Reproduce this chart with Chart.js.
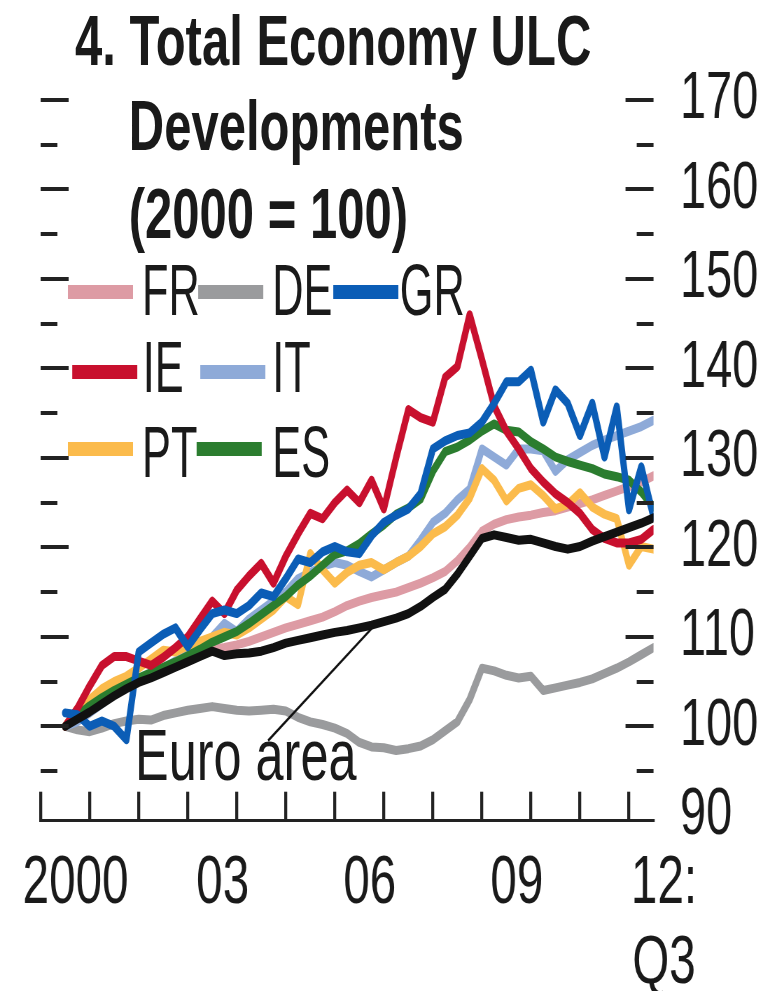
<!DOCTYPE html>
<html>
<head>
<meta charset="utf-8">
<title>Total Economy ULC Developments</title>
<script src="https://cdn.jsdelivr.net/npm/chart.js@4.4.0/dist/chart.umd.min.js"></script>
<style>
  html, body { margin:0; padding:0; background:#fff; width:780px; height:991px; overflow:hidden; }
  #wrap { position:absolute; left:0; top:0; width:1114px; height:991px; transform:scaleX(0.7); transform-origin:0 0; }
  #c { position:absolute; left:0; top:0; }
  .t { position:absolute; white-space:nowrap; font-family:'Liberation Sans', Arial, sans-serif; color:#1a1a1a; line-height:1; }
  .title { font-weight:bold; font-size:70px; }
  .leg { font-size:72px; transform:scaleX(0.86); transform-origin:0 0; }
  .note { font-size:72px; }
  .sw { position:absolute; height:14px; }
</style>
</head>
<body>
<div id="wrap">
  <canvas id="c" width="1114" height="991"></canvas>
  <div class="t title" style="left:107px; top:6px;">4. Total Economy ULC</div>
  <div class="t title" style="left:184px; top:91px;">Developments</div>
  <div class="t title" style="left:184px; top:179px;">(2000 = 100)</div>
  <div class="t note" style="left:193px; top:719px;">Euro area</div>
  <div id="legend"></div>
</div>
<script>
// ---------------- DATA ----------------
const quarters = [
  '2000Q3','2000Q4',
  '2001Q1','2001Q2','2001Q3','2001Q4',
  '2002Q1','2002Q2','2002Q3','2002Q4',
  '2003Q1','2003Q2','2003Q3','2003Q4',
  '2004Q1','2004Q2','2004Q3','2004Q4',
  '2005Q1','2005Q2','2005Q3','2005Q4',
  '2006Q1','2006Q2','2006Q3','2006Q4',
  '2007Q1','2007Q2','2007Q3','2007Q4',
  '2008Q1','2008Q2','2008Q3','2008Q4',
  '2009Q1','2009Q2','2009Q3','2009Q4',
  '2010Q1','2010Q2','2010Q3','2010Q4',
  '2011Q1','2011Q2','2011Q3','2011Q4',
  '2012Q1','2012Q2','2012Q3'
];

const fr = [100,101.0,102.0,102.8,103.6,104.3,105.0,105.6,106.2,106.8,
            107.4,108.0,108.6,108.8,109.1,109.5,110.0,110.5,111.0,111.4,
            111.8,112.2,112.8,113.5,114.0,114.4,114.7,115.0,115.5,116.0,
            116.6,117.3,118.5,120.0,121.8,122.6,123.1,123.4,123.6,123.9,
            124.1,124.5,124.9,125.3,125.8,126.3,126.8,127.3,128.0];

const de = [100,99.6,99.4,99.8,100.3,100.6,100.8,100.7,101.2,101.5,
            101.8,102.0,102.2,102.0,101.8,101.7,101.8,101.9,101.7,101.0,
            100.5,100.2,99.8,99.2,98.2,97.7,97.6,97.3,97.5,97.8,
            98.5,99.5,100.5,103.0,106.5,106.2,105.7,105.4,105.6,104.0,
            104.3,104.6,104.9,105.3,105.9,106.5,107.2,108.0,108.8];

const gr = [101.5,101.3,100.0,100.6,100.0,98.5,108.3,109.3,110.3,111.0,
            108.9,110.8,112.6,113.0,112.6,113.5,114.9,114.5,116.5,118.7,
            118.3,119.5,120.1,119.5,119.3,121.3,122.8,123.6,124.3,126.0,
            131.0,131.9,132.5,132.8,134.0,136.1,138.5,138.5,139.8,134.0,
            137.6,136.1,132.5,136.1,130.1,135.7,124.2,129.0,123.4];

const ie = [100,102.0,104.5,106.8,107.8,107.8,107.3,106.8,107.7,108.8,
            110.0,112.0,114.0,112.6,115.2,116.8,118.2,116.0,119.0,121.5,
            123.8,123.2,125.0,126.4,125.0,127.5,124.3,130.0,135.4,134.5,
            134.0,139.0,140.2,146.0,141.0,135.8,133.0,131.0,128.8,127.3,
            126.0,125.0,123.8,122.0,121.0,120.5,120.5,120.9,122.0];

const it = [100,100.5,101.5,102.5,103.5,104.3,105.0,105.5,106.5,107.3,
            108.0,108.8,110.0,111.5,110.6,112.0,113.0,114.0,115.0,116.5,
            117.2,117.9,118.3,118.0,117.3,116.7,117.5,118.3,119.0,120.8,
            122.8,123.8,125.3,126.5,131.0,130.1,129.2,131.0,131.0,130.8,
            128.5,129.8,130.6,131.4,132.0,132.5,133.0,133.5,134.2];

const pt = [100,102.0,103.0,104.2,105.0,105.6,106.5,107.5,108.5,108.3,
            109.0,109.5,110.0,110.5,110.2,111.0,112.0,113.0,114.5,113.6,
            119.3,117.5,116.0,117.2,118.0,118.3,117.5,118.3,119.0,120.1,
            121.5,122.3,123.6,125.5,128.8,127.5,125.2,126.6,127.0,125.8,
            124.3,124.8,126.1,124.5,123.7,123.2,118.0,120.1,119.8];

const es = [100,101.2,102.3,103.2,104.0,104.7,105.4,106.0,106.6,107.2,
            107.9,108.6,109.4,110.0,110.6,111.5,112.5,113.5,114.5,115.8,
            116.8,118.0,119.2,119.6,120.4,121.5,122.5,123.7,124.4,125.4,
            128.5,130.7,131.2,132.0,133.0,133.8,133.1,132.9,131.8,131.0,
            130.1,129.6,129.2,128.8,128.2,127.9,127.5,126.2,124.5];

const ea = [100,100.8,101.6,102.5,103.4,104.2,104.9,105.4,106.0,106.6,
            107.2,107.8,108.4,107.9,108.1,108.2,108.4,108.8,109.3,109.6,
            109.9,110.2,110.5,110.7,111.0,111.3,111.7,112.1,112.6,113.4,
            114.4,115.3,117.0,119.0,121.0,121.4,121.1,120.8,120.9,120.5,
            120.1,119.8,120.1,120.7,121.2,121.7,122.2,122.7,123.3];

const seriesNames  = ['FR','DE','GR','IE','IT','PT','ES','Euro area'];
const seriesValues = [fr, de, gr, ie, it, pt, es, ea];
const seriesColors = ['#dd9ba4','#9a9b9d','#0b5db6','#c8102e','#8eaad8','#fbbb4c','#2b7d2f','#111111'];
const drawOrder    = [6, 7, 1, 2, 5, 4, 3, 0];

const xTickYears  = [2000,2001,2002,2003,2004,2005,2006,2007,2008,2009,2010,2011,2012];
const xLabelYears = [2000, 2003, 2006, 2009, 2012];
const xLabels     = ['2000', '03', '06', '09', ['12:', 'Q3']];
const yTickValues = [90,95,100,105,110,115,120,125,130,135,140,145,150,155,160,165,170];

// ---------------- CHART ----------------
const quarterToX = q => Number(q.slice(0, 4)) + (Number(q.slice(5)) - 1) / 4;

const datasets = seriesNames.map((name, k) => ({
  label: name,
  data: quarters.map((q, i) => ({ x: quarterToX(q), y: seriesValues[k][i] })),
  borderColor: seriesColors[k],
  backgroundColor: seriesColors[k],
  borderWidth: 9,
  pointRadius: 0,
  tension: 0,
  fill: false,
  order: drawOrder[k]
}));

const FONT = "'Liberation Sans', Arial, sans-serif";
const INK = '#1a1a1a';

const innerTicks = {
  id: 'innerTicks',
  afterDatasetsDraw(chart) {
    const { ctx, chartArea, scales } = chart;
    const y = scales.y, x = scales.x;
    ctx.save();
    ctx.strokeStyle = '#222';
    ctx.lineWidth = 4;
    ctx.lineCap = 'butt';
    y.ticks.forEach(t => {
      const v = t.value;
      if (v < 95) return;
      const py = Math.round(y.getPixelForValue(v));
      const len = (v % 10 === 0) ? 40 : 24;
      ctx.beginPath();
      ctx.moveTo(chartArea.left, py);
      ctx.lineTo(chartArea.left + len, py);
      ctx.moveTo(chartArea.right, py);
      ctx.lineTo(chartArea.right - len, py);
      ctx.stroke();
    });
    // pointer from the "Euro area" note to its line
    ctx.strokeStyle = '#111';
    ctx.lineWidth = 2.6;
    ctx.beginPath();
    ctx.moveTo(x.getPixelForValue(2004.64), y.getPixelForValue(98.4));
    ctx.lineTo(x.getPixelForValue(2006.78), y.getPixelForValue(111.1));
    ctx.stroke();
    ctx.restore();
  }
};

new Chart(document.getElementById('c'), {
  type: 'line',
  data: { datasets },
  plugins: [innerTicks],
  options: {
    responsive: false,
    animation: false,
    devicePixelRatio: 1,
    layout: { padding: { left: 58, top: 100, right: 0, bottom: 0 } },
    plugins: { legend: { display: false }, tooltip: { enabled: false }, title: { display: false } },
    elements: { line: { borderJoinStyle: 'round', borderCapStyle: 'round' } },
    scales: {
      x: {
        type: 'linear',
        position: 'bottom',
        min: 2000,
        max: 2012.5,
        afterBuildTicks: s => { s.ticks = xTickYears.map(v => ({ value: v })); },
        afterFit: s => { s.height = 170.3; s.paddingLeft = 0; s.paddingRight = 0; },
        grid: { display: true, drawOnChartArea: false, drawTicks: true, tickLength: -29,
                lineWidth: 4.3, tickWidth: 4.3, color: '#222', tickColor: '#222' },
        border: { display: true, color: '#222', width: 3 },
        ticks: {
          autoSkip: false, maxRotation: 0, minRotation: 0,
          labelOffset: 50, padding: 53,
          color: INK,
          font: { family: FONT, size: 68, lineHeight: 1.17 },
          callback: v => {
            const k = xLabelYears.indexOf(Math.round(v));
            return k >= 0 ? xLabels[k] : '';
          }
        }
      },
      y: {
        type: 'linear',
        position: 'right',
        min: 89.45,
        max: 170,
        afterBuildTicks: s => { s.ticks = yTickValues.map(v => ({ value: v })); },
        afterFit: s => { s.width = 180.4; s.paddingTop = 0; s.paddingBottom = 0; },
        grid: { display: false, drawTicks: false },
        border: { display: false },
        ticks: {
          autoSkip: false, padding: 38,
          color: INK,
          font: { family: FONT, size: 67 },
          callback: v => (v % 10 === 0 ? String(v) : '')
        }
      }
    }
  }
});

// ---------------- LEGEND (HTML, in the plot's top-left) ----------------
const legendSpots = [
  { sw: [97, 292],  tx: [203, 315] },  // FR
  { sw: [283, 292], tx: [389, 315] },  // DE
  { sw: [476, 292], tx: [571, 315] },  // GR
  { sw: [103, 372], tx: [204, 392] },  // IE
  { sw: [286, 372], tx: [389, 392] },  // IT
  { sw: [97, 449],  tx: [203, 477] },  // PT
  { sw: [281, 449], tx: [389, 477] }   // ES
];
const legendEl = document.getElementById('legend');
legendSpots.forEach((p, k) => {
  const sw = document.createElement('div');
  sw.className = 'sw';
  sw.style.left = p.sw[0] + 'px';
  sw.style.top = (p.sw[1] - 7) + 'px';
  sw.style.width = '93px';
  sw.style.background = seriesColors[k];
  legendEl.appendChild(sw);
  const tx = document.createElement('div');
  tx.className = 't leg';
  tx.style.left = p.tx[0] + 'px';
  tx.style.top = (p.tx[1] - 61) + 'px';
  tx.textContent = seriesNames[k];
  legendEl.appendChild(tx);
});
</script>
</body>
</html>
